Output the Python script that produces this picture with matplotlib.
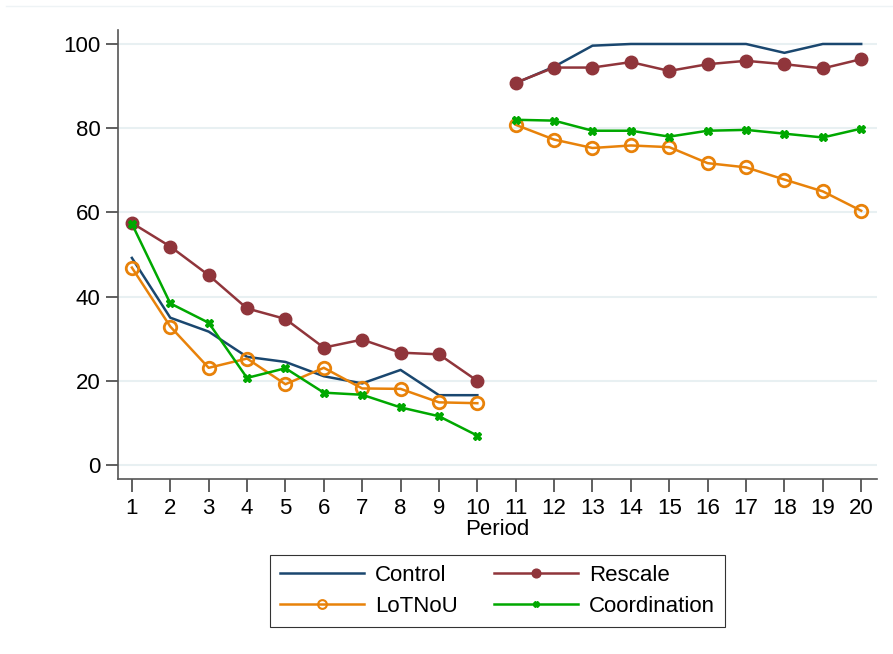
import numpy as np
import matplotlib.pyplot as plt
from matplotlib.lines import Line2D

periods = np.arange(1, 21)

control = [49.2, 35.0, 31.7, 25.7, 24.5, 21.1, 19.4, 22.6, 16.6, 16.6,
           90.7, 94.6, 99.6, 100.0, 100.0, 100.0, 100.0, 97.9, 100.0, 100.0]
rescale = [57.5, 51.9, 45.1, 37.2, 34.7, 27.9, 29.8, 26.7, 26.3, 20.0,
           90.8, 94.4, 94.4, 95.7, 93.6, 95.2, 96.0, 95.2, 94.2, 96.4]
lotnou = [46.9, 32.9, 23.1, 25.3, 19.2, 23.1, 18.2, 18.1, 14.9, 14.7,
          80.8, 77.3, 75.3, 75.9, 75.5, 71.7, 70.7, 67.8, 65.0, 60.4]
coordination = [57.3, 38.4, 33.8, 20.7, 23.0, 17.2, 16.7, 13.7, 11.6, 7.0,
                82.0, 81.8, 79.4, 79.4, 78.0, 79.4, 79.6, 78.7, 77.8, 79.9]

plt.rcParams['font.family'] = ['Liberation Sans', 'DejaVu Sans']
FS = 16

fig = plt.figure(figsize=(8.93, 6.54), dpi=100)
ax = fig.add_axes([0.132, 0.2676, 0.85, 0.6864])

series = [
    ("Control", control, dict(color="#1a476f", marker=None)),
    ("Rescale", rescale, dict(color="#90353b", marker="o", markersize=9,
                              markerfacecolor="#90353b")),
    ("LoTNoU", lotnou, dict(color="#e8820a", marker="o", markersize=9,
                            markerfacecolor="none", markeredgewidth=2)),
    ("Coordination", coordination, dict(color="#00a800", marker="X",
                                        markersize=6)),
]

handles = []
for name, vals, style in series:
    vals = np.array(vals)
    # two separate blocks: periods 1-10 and 11-20
    for seg in (slice(0, 10), slice(10, 20)):
        ax.plot(periods[seg], vals[seg], lw=1.8, **style)
    leg_style = dict(style)
    if "markersize" in leg_style:
        leg_style["markersize"] = leg_style["markersize"] * 0.7
    if "markeredgewidth" in leg_style:
        leg_style["markeredgewidth"] = 1.5
    handles.append(Line2D([], [], lw=1.8, label=name, **leg_style))

ax.set_xlim(0.635, 20.41)
ax.set_ylim(-3.3, 103.3)
ax.set_xticks(periods)
ax.set_yticks([0, 20, 40, 60, 80, 100])
ax.set_xlabel("Period", fontsize=FS, labelpad=0)
ax.tick_params(labelsize=FS, length=9, width=1.2, color="#444444")
ax.tick_params(axis="x", pad=5)
ax.grid(axis="y", color="#e8f0f2", lw=1.5)
ax.set_axisbelow(True)
for side in ("top", "right"):
    ax.spines[side].set_visible(False)
for side in ("left", "bottom"):
    ax.spines[side].set_color("#555555")
    ax.spines[side].set_linewidth(1.2)

# legend ordered row-wise: Control, Rescale / LoTNoU, Coordination
order = [handles[0], handles[2], handles[1], handles[3]]
leg = fig.legend(handles=order, ncol=2, loc="center",
                 bbox_to_anchor=(0.557, 0.097), fontsize=FS,
                 frameon=True, fancybox=False, handlelength=3.8,
                 columnspacing=1.6, handletextpad=0.5,
                 borderpad=0.45, labelspacing=0.45, borderaxespad=0)
leg.get_frame().set_edgecolor("black")
leg.get_frame().set_linewidth(0.8)

fig.add_artist(Line2D([0.007, 1.0], [0.991, 0.991], color="#eef3f5",
                      lw=1, transform=fig.transFigure))

fig.savefig("out.png", dpi=100)
